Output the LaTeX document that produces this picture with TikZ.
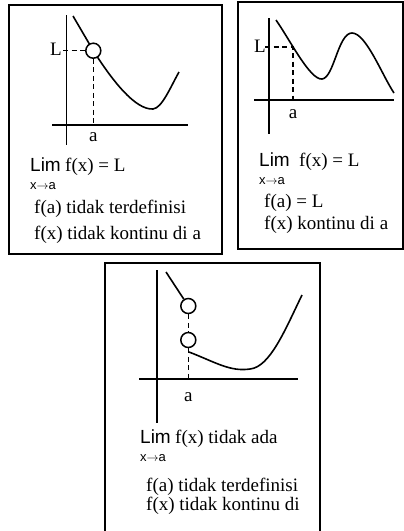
\documentclass[tikz,border=0pt]{standalone}
\usepackage{fontspec}
\setmainfont{Liberation Serif}
\newfontfamily\limfont{Liberation Sans}
\begin{document}
\begin{tikzpicture}[x=1pt,y=-1pt,
  frame/.style={line width=1.6pt},
  axis/.style={line width=1.5pt},
  curve/.style={line width=1.6pt},
  guide/.style={line width=1.5pt, dash pattern=on 5pt off 3.5pt},
  hole/.style={circle, draw, line width=1.5pt, fill=white, minimum size=15pt, inner sep=0pt},
  txt/.style={anchor=base west, inner sep=0pt, font=\fontsize{19}{19}\selectfont},
  lab/.style={inner sep=0pt, font=\fontsize{19}{19}\selectfont},
  limtxt/.style={anchor=base west, inner sep=0pt, font=\limfont\fontsize{19}{19}\selectfont},
  subtxt/.style={anchor=base west, inner sep=0pt, font=\limfont\fontsize{13}{13}\selectfont}]
\useasboundingbox (0,0) rectangle (404,531);
\fill[white] (0,0) rectangle (404,531);

% ---------- Box 1 ----------
\draw[frame] (9,5) rectangle (222,254);
\coordinate (a1t) at (66.7,15);
\coordinate (a1b) at (66.7,145);
\coordinate (h1l) at (52,125);
\coordinate (h1r) at (188,125);
\draw[axis] (a1t) -- (a1b);
\draw[axis] (h1l) -- (h1r);
\coordinate (c1s) at (73,16);
\coordinate (c1e) at (179,72);
\draw[curve] (c1s) -- (93.3,50.7) .. controls (112,80) and (135,110) .. (153,109) .. controls (162,108) and (170,88) .. (c1e);
\node[hole] (o1) at (93.3,50.7) {};
\coordinate (l1) at (63,50.7);
\coordinate (x1) at (93.3,125);
\draw[guide] (l1) -- (o1.west);
\draw[guide] (o1.south) -- (x1);
\node[lab, anchor=east] (L1) at (62,49) {L};
\node[lab] (A1) at (93.3,137) {a};
\node[limtxt] (lim1) at (30,171) {Lim};
\node[txt, anchor=base west] (fx1) at ([xshift=4pt]lim1.base east) {f(x) = L};
\node[subtxt] (sub1) at (30,189) {x$\rightarrow$a};
\node[txt] (fa1) at (34,213) {f(a) tidak terdefinisi};
\node[txt] (kt1) at (34,239) {f(x) tidak kontinu di a};

% ---------- Box 2 ----------
\draw[frame] (238,2) rectangle (403,249);
\coordinate (a2t) at (269,18);
\coordinate (a2b) at (269,134);
\coordinate (h2l) at (254,100);
\coordinate (h2r) at (394,100);
\draw[axis] (a2t) -- (a2b);
\draw[axis] (h2l) -- (h2r);
\coordinate (c2s) at (276,20);
\coordinate (c2e) at (394,93);
\draw[curve] (c2s) .. controls (290,40) and (310,80) .. (322,79) .. controls (334,78) and (338,33) .. (352,33) .. controls (366,33) and (382,75) .. (c2e);
\coordinate (p2) at (293,47);
\coordinate (l2) at (265,47);
\coordinate (x2) at (293,100);
\draw[guide] (l2) -- (p2) -- (x2);
\node[lab, anchor=east] (L2) at (266,46) {L};
\node[lab] (A2) at (293,114) {a};
\node[limtxt] (lim2) at (259,166) {Lim};
\node[txt, anchor=base west] (fx2) at ([xshift=9pt]lim2.base east) {f(x) = L};
\node[subtxt] (sub2) at (259,184) {x$\rightarrow$a};
\node[txt] (fa2) at (264,207) {f(a) = L};
\node[txt] (kt2) at (264,229) {f(x) kontinu di a};

% ---------- Box 3 ----------
\draw[frame] (105,535) -- (105,263) -- (320,263) -- (320,535);
\coordinate (a3t) at (157,270);
\coordinate (a3b) at (157,423);
\coordinate (h3l) at (139,379);
\coordinate (h3r) at (298,379);
\draw[axis] (a3t) -- (a3b);
\draw[axis] (h3l) -- (h3r);
\coordinate (c3s) at (166,272);
\node[hole] (o3u) at (188.3,306) {};
\node[hole] (o3d) at (188.3,340) {};
\draw[curve] (c3s) -- (o3u);
\coordinate (c3b) at (189,352);
\coordinate (c3e) at (302,295);
\draw[curve] (c3b) .. controls (215,362) and (230,372) .. (250,369) .. controls (270,367) and (285,330) .. (c3e);
\coordinate (x3) at (188.3,379);
\draw[guide] (o3u.south) -- (o3d.north);
\draw[guide] (o3d.south) -- (x3);
\node[lab] (A3) at (188.3,397) {a};
\node[limtxt] (lim3) at (140,443) {Lim};
\node[txt, anchor=base west] (fx3) at ([xshift=4pt]lim3.base east) {f(x) tidak ada};
\node[subtxt] (sub3) at (140,461) {x$\rightarrow$a};
\node[txt] (fa3) at (146,491) {f(a) tidak terdefinisi};
\node[txt] (kt3) at (146,510) {f(x) tidak kontinu di};
\end{tikzpicture}
\end{document}
